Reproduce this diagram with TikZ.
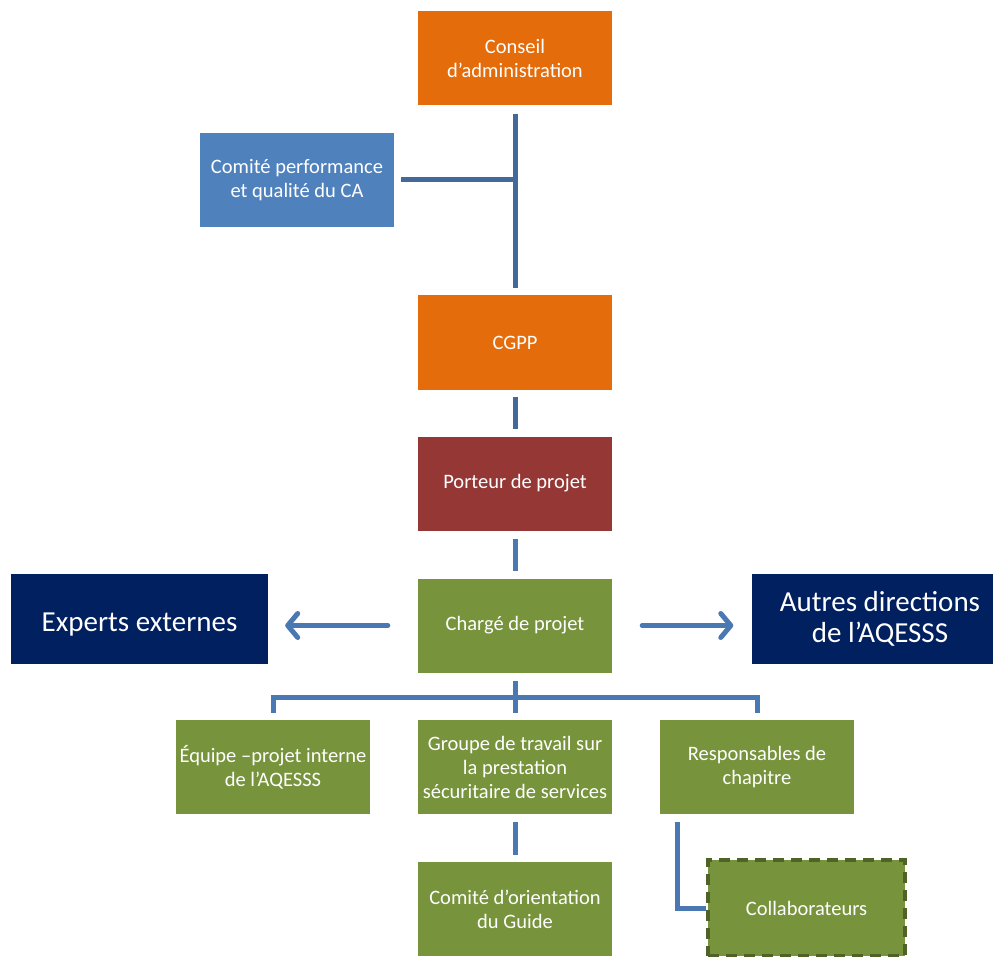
\documentclass[tikz,border=0pt]{standalone}
\usepackage{fontspec}
\setmainfont{Carlito}
\usetikzlibrary{arrows.meta}
\definecolor{orgOrange}{HTML}{E46C0A}
\definecolor{orgBlue}{HTML}{4F81BD}
\definecolor{orgRed}{HTML}{953735}
\definecolor{orgGreen}{HTML}{77933C}
\definecolor{orgNavy}{HTML}{002060}
\definecolor{orgOlive}{HTML}{4F6228}
\definecolor{linkTop}{HTML}{41699C}
\definecolor{linkLow}{HTML}{4A78B2}
\tikzset{
  unit/.style={rectangle, inner sep=0pt, minimum width=194pt, minimum height=94pt,
    align=center, text=white,
    font=\fontsize{20.5}{24}\selectfont},
  bigunit/.style={rectangle, inner sep=0pt, minimum width=257pt, minimum height=90pt,
    align=center, text=white, fill=orgNavy,
    font=\fontsize{29}{31}\selectfont},
  link/.style={draw=linkTop, line width=5pt},
  lowlink/.style={draw=linkLow, line width=5pt},
  arrowlink/.style={lowlink, line cap=round,
    -{Straight Barb[length=10pt, width=24pt, round]}}
}
\begin{document}
\begin{tikzpicture}[x=1pt, y=-1pt]
\useasboundingbox (0,0) rectangle (993,957);
\begin{scope}
\clip (0,0) rectangle (993,957);
% boxes
\node[unit, fill=orgOrange] (ca) at (515,58.5) {Conseil\\d’administration};
\node[unit, fill=orgBlue] (cp) at (297,180) {Comité performance\\et qualité du CA};
\node[unit, fill=orgOrange] (cgpp) at (515,342.5) {CGPP};
\node[unit, fill=orgRed] (pp) at (515,483.5) {Porteur de projet};
\node[unit, fill=orgGreen] (ch) at (515,625.5) {Chargé de projet};
\node[bigunit] (ex) at (139.5,619) {\rule{0pt}{29pt}Experts externes};
\node[bigunit] (ad) at (880,619) {Autres directions\\de l’AQESSS};
\node[unit, fill=orgGreen] (eq) at (273,767) {\makebox[180pt][c]{Équipe –projet interne}\\de l’AQESSS};
\node[unit, fill=orgGreen] (gr) at (515,767) {\makebox[180pt][c]{Groupe de travail sur}\\la prestation\\\makebox[180pt][c]{sécuritaire de services}};
\node[unit, fill=orgGreen] (rs) at (757,767) {Responsables de\\chapitre};
\node[unit, fill=orgGreen] (co) at (515,909) {Comité d’orientation\\du Guide};
\node[unit, fill=orgGreen, minimum width=197pt, minimum height=96pt,
      draw=orgOlive, line width=4pt, dash pattern=on 11pt off 7pt] (cl) at (806.5,908) {Collaborateurs};

% upper hierarchy
\coordinate (j1) at (ca.south |- cp.east);
\draw[link, shorten <=8pt, shorten >=7pt] (ca.south) -- (cgpp.north);
\draw[link, shorten <=7pt] (cp.east) -- (j1);
\draw[link, shorten <=7pt, shorten >=7pt] (cgpp.south) -- (pp.north);
\draw[lowlink, shorten <=8pt, shorten >=7pt] (pp.south) -- (ch.north);

% lateral arrows
\draw[arrowlink, shorten <=30pt, shorten >=17pt] (ch.west) -- (ch.west -| ex.east);
\draw[arrowlink, shorten <=30pt, shorten >=18pt] (ch.east) -- (ch.east -| ad.west);

% lower tree
\coordinate (bus) at (515,697);
\draw[lowlink, shorten <=8pt] (ch.south) -- (bus);
\draw[lowlink] ([yshift=7pt]eq.north) |- (bus) -| ([yshift=7pt]rs.north);
\draw[lowlink] (bus) -- ([yshift=7pt]gr.north);
\draw[lowlink, shorten <=8pt, shorten >=7pt] (gr.south) -- (co.north);
\draw[lowlink] ([xshift=-80pt, yshift=-8pt]rs.south) |- (cl.west);
\end{scope}
\end{tikzpicture}
\end{document}
